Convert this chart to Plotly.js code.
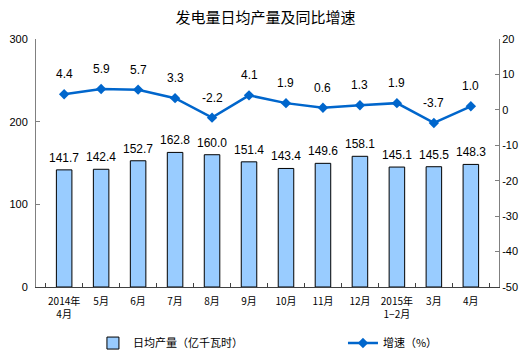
<!DOCTYPE html>
<html><head><meta charset="utf-8">
<script src="https://cdn.plot.ly/plotly-3.0.1.min.js"></script>
<style>html,body{margin:0;padding:0;background:#fff;}#chart{width:531px;height:355px;}</style>
</head><body><div id="chart"></div>
<script>
const categories = ["2014年<br>4月","5月","6月","7月","8月","9月","10月","11月","12月","2015年<br>1−2月","3月","4月"];
const dailyOutput = [141.7,142.4,152.7,162.8,160.0,151.4,143.4,149.6,158.1,145.1,145.5,148.3];
const growthRate = [4.4,5.9,5.7,3.3,-2.2,4.1,1.9,0.6,1.3,1.9,-3.7,1.0];
const leftTicks = [0,100,200,300];
const rightTicks = [-50,-40,-30,-20,-10,0,10,20];

const labelFont = {family:'Liberation Sans, Arial', size:12, color:'#000'};
const barTrace = {
  type:'bar', x:categories, y:dailyOutput, name:'日均产量（亿千瓦时）',
  marker:{color:'#99CCFF', line:{color:'#000000', width:1}},
  width:0.42, hoverinfo:'skip', legend:'legend'
};
const lineTrace = {
  type:'scatter', mode:'lines+markers', x:categories, y:growthRate, yaxis:'y2',
  name:'增速（%）',
  line:{color:'#0066CC', width:2.5},
  marker:{symbol:'diamond', size:8, color:'#0066CC'},
  hoverinfo:'skip', legend:'legend2'
};
const annotations = growthRate.map((v,i)=>({
  x:categories[i], y:v, xref:'x', yref:'y2', text:v.toFixed(1), showarrow:false,
  yshift:20, font:labelFont
})).concat(dailyOutput.map((v,i)=>({
  x:categories[i], y:v, xref:'x', yref:'y', text:v.toFixed(1), showarrow:false,
  yshift:12, font:labelFont
})));
const legFont = {family:'Noto Sans CJK SC', size:11, color:'#000'};
const layout = {
  width:531, height:355,
  margin:{l:36, r:32, t:39, b:68, autoexpand:false},
  paper_bgcolor:'#fff', plot_bgcolor:'#fff',
  title:{text:'发电量日均产量及同比增速', x:0.5, xanchor:'center', y:0.95, yanchor:'middle',
    font:{family:'Noto Sans CJK SC', size:15, color:'#000'}},
  showlegend:true,
  legend:{orientation:'h', x:0.123, xanchor:'left', y:-0.226, yanchor:'middle', font:legFont, bgcolor:'rgba(0,0,0,0)'},
  legend2:{orientation:'h', x:0.663, xanchor:'left', y:-0.226, yanchor:'middle', font:legFont, bgcolor:'rgba(0,0,0,0)'},
  xaxis:{type:'category', showline:true, linecolor:'#404040', linewidth:1, tickangle:0, automargin:false,
    ticks:'inside', tickson:'boundaries', ticklen:4, tickcolor:'#404040', ticklabelstandoff:5,
    tickfont:{family:'Noto Sans CJK SC', size:10, color:'#000'}, showgrid:false, zeroline:false},
  yaxis:{range:[0,300], tickvals:leftTicks, showline:true, linecolor:'#808080', ticks:'inside', ticklen:4,
    tickcolor:'#808080', showgrid:false, zeroline:false, automargin:false, ticklabelstandoff:5,
    tickfont:{family:'Liberation Sans, Arial', size:11, color:'#000'}},
  yaxis2:{range:[-50,20], tickvals:rightTicks, ticktext:rightTicks.map(String), overlaying:'y', side:'right', showline:true, linecolor:'#808080',
    ticks:'inside', ticklen:4, tickcolor:'#808080', showgrid:false, zeroline:false, automargin:false,
    tickfont:{family:'Liberation Sans, Arial', size:11, color:'#000'}},
  annotations:annotations
};
Plotly.newPlot('chart',[barTrace,lineTrace],layout,{staticPlot:true});
</script></body></html>
